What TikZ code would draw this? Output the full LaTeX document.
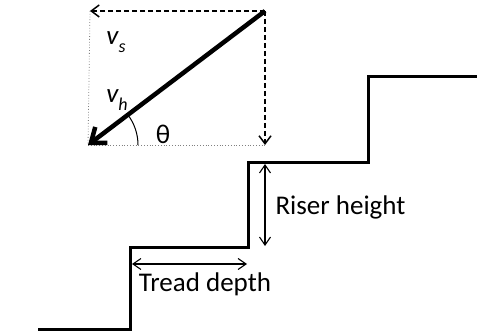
\documentclass[tikz,border=0pt]{standalone}
\usepackage{fontspec}
\setmainfont{Carlito}
\usetikzlibrary{arrows.meta}

\newcommand{\velsub}[2]{{\itshape #1\raisebox{-0.3em}{\fontsize{18}{20}\selectfont\itshape #2}}}

\tikzset{
  stair/.style={line width=3pt},
  dimline/.style={line width=1.1pt, {Straight Barb[length=8pt,width=11pt]}-{Straight Barb[length=8pt,width=11pt]}},
  compdash/.style={line width=1.5pt, dash pattern=on 5pt off 3pt, -{Straight Barb[length=8pt,width=12pt]}},
  guide/.style={line width=0.8pt, gray, dotted},
}

\begin{document}
\begin{tikzpicture}[x=1pt, y=-1pt, font=\fontsize{27}{32}\selectfont]
  \useasboundingbox (0,0) rectangle (477,334);
  %% 1. Stairs
  \draw[stair] (38,329) -- (130,329) -- (130,247) -- (248,247)
               -- (248,163) -- (368,163) -- (368,77) -- (477,77);
  %% 2. Velocity box
  \coordinate (tl) at (90,11);
  \coordinate (tr) at (265,11);
  \coordinate (br) at (265,145);
  \coordinate (bl) at (88,145);
  \draw[guide] (tl) -- (bl);
  \draw[guide] (bl) -- (br);
  \draw[compdash] (tr) -- (tl);
  \draw[compdash] (tr) -- (br);
  \draw[line width=4.5pt, -{Straight Barb[length=13pt,width=20pt]}] (tr) -- (bl);
  \draw[line width=1pt] (bl) ++(50,0) arc (0:-37:50);
  %% 3. Labels
  \node (vs) at (116,42) {\velsub{v}{s}};
  \node (vh) at (117,100) {\velsub{v}{h}};
  \node (th) at (163,134) {θ};
  %% 4. Dimensions
  \coordinate (rt) at (265,164);
  \coordinate (rb) at (265,246);
  \coordinate (ta) at (132,264);
  \coordinate (tb) at (247,264);
  \draw[dimline] (rt) -- (rb);
  \draw[dimline] (ta) -- (tb);
  \node[anchor=west] (riser) at (272,207) {Riser height};
  \node (tread) at (205,284) {Tread depth};
\end{tikzpicture}
\end{document}
